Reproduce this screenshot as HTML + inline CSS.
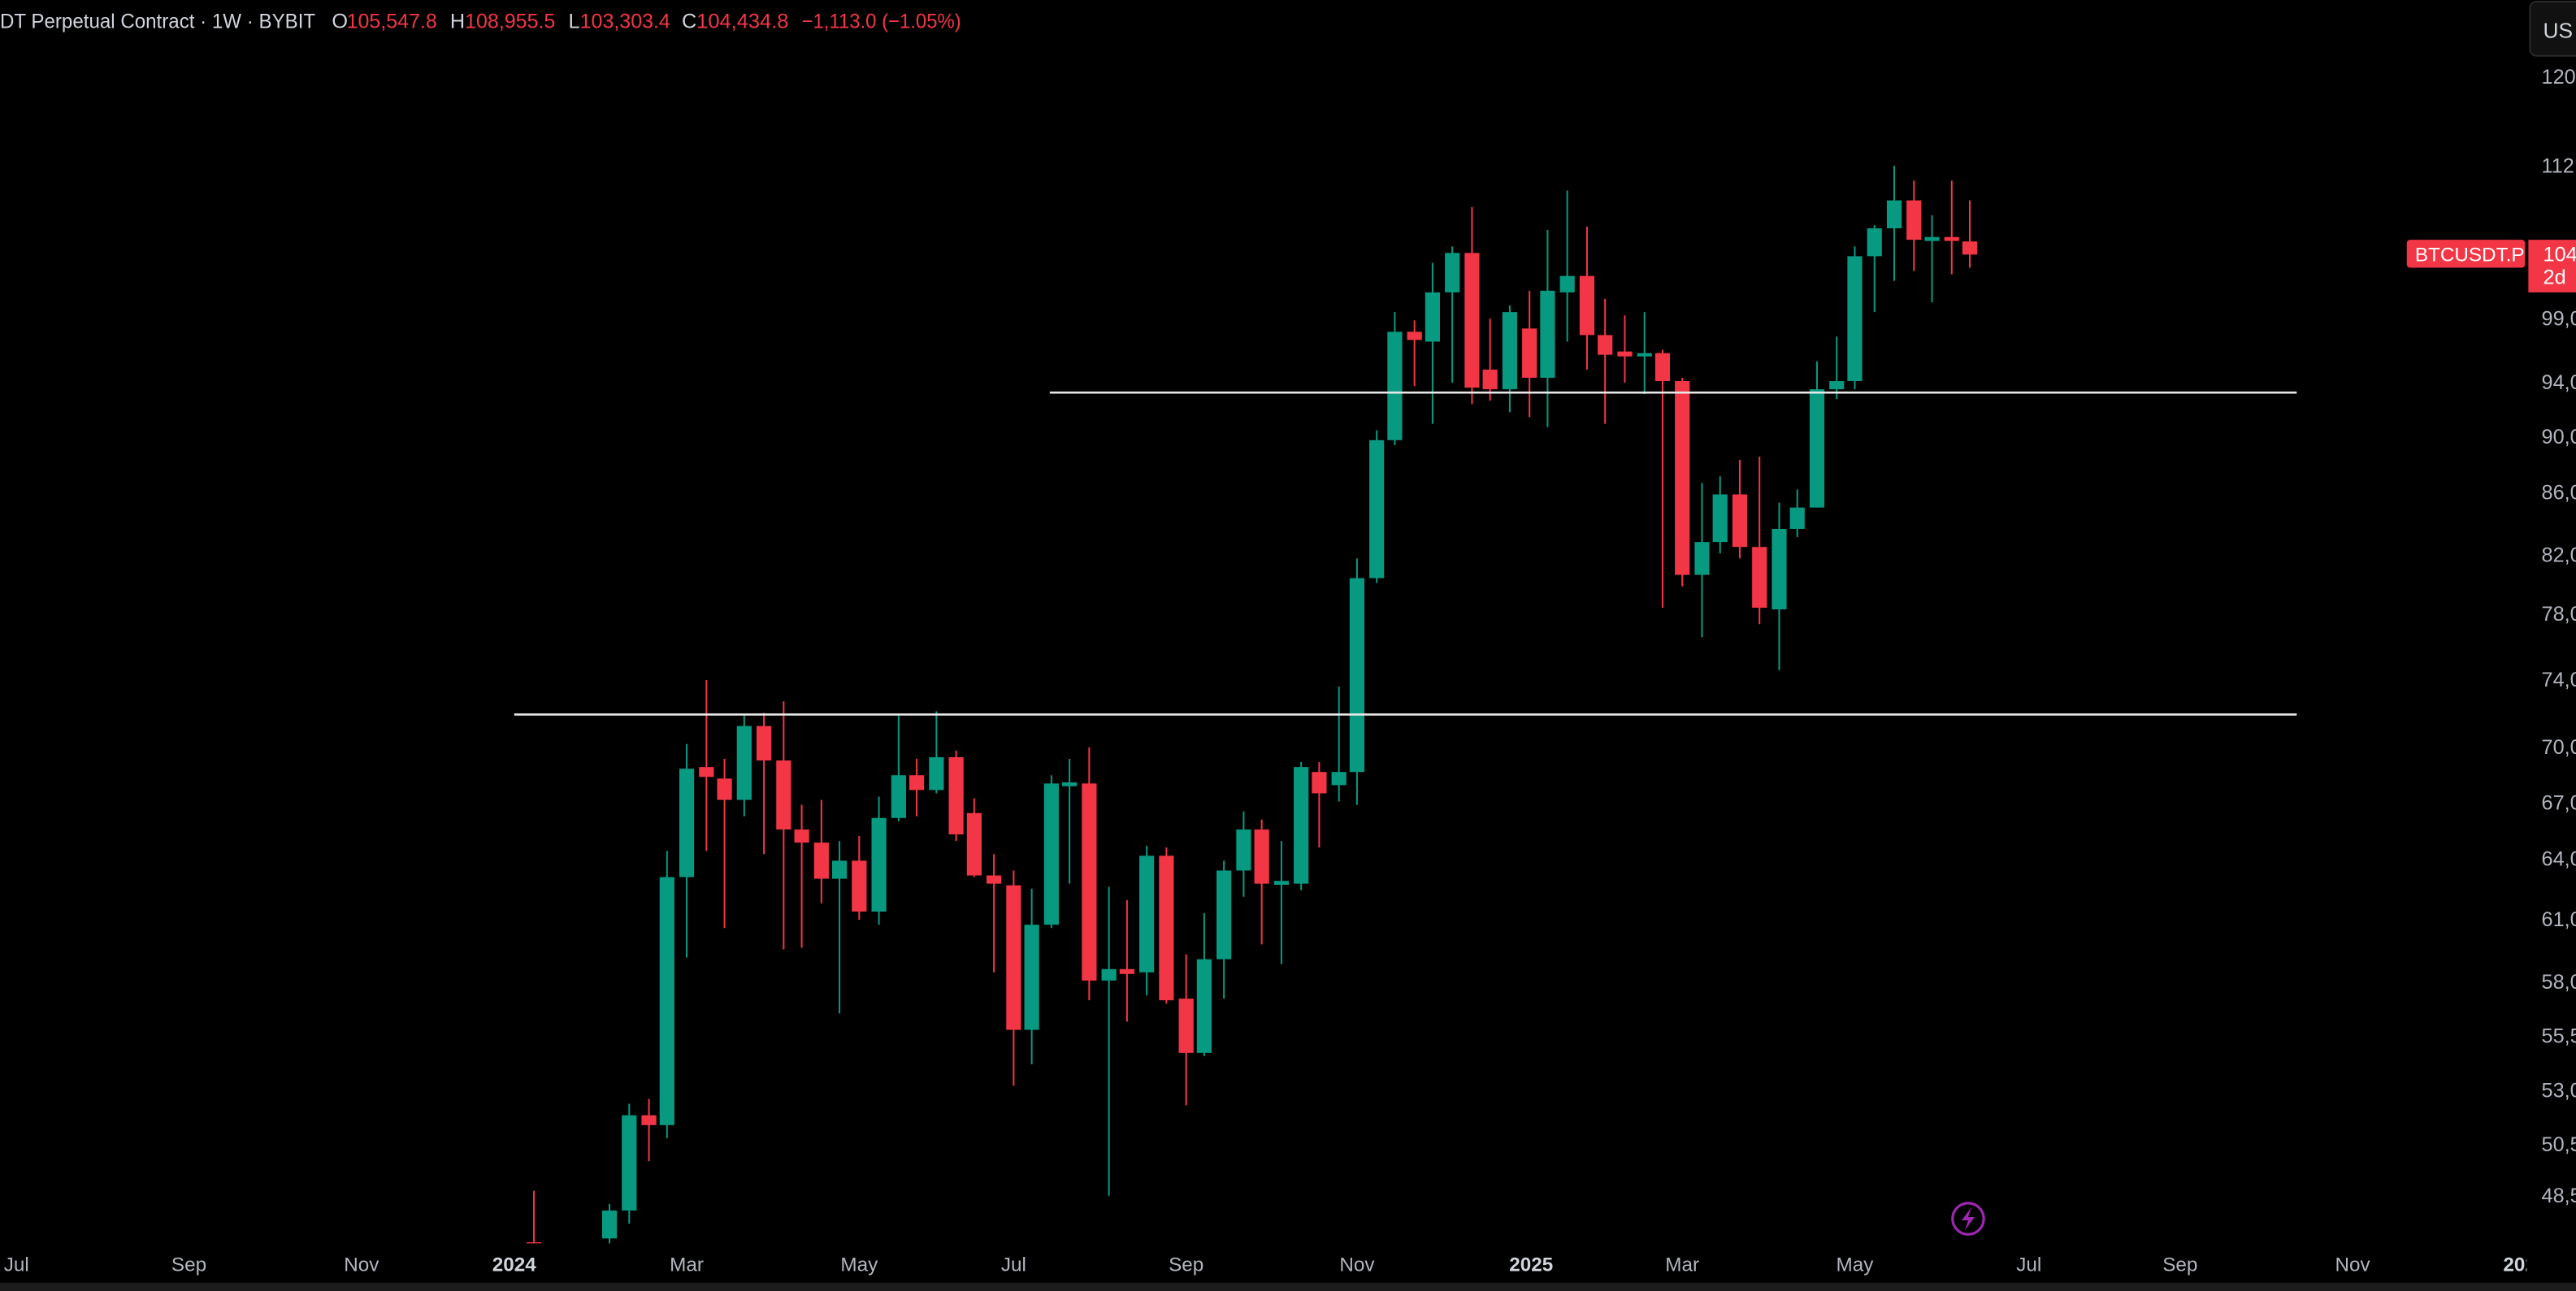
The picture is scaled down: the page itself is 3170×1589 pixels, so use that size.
<!DOCTYPE html>
<html><head><meta charset="utf-8"><style>
html,body{margin:0;padding:0;background:#000;width:3170px;height:1589px;overflow:hidden}
svg{display:block}
text{font-family:"Liberation Sans",sans-serif}
</style></head><body>
<svg id="s" width="3170" height="1589" viewBox="0 0 1568 786" preserveAspectRatio="none" xmlns="http://www.w3.org/2000/svg">
<rect width="1568" height="786" fill="#000"/>
<g id="c"></g>
<line x1="639" y1="239" x2="1398" y2="239" stroke="#e8e8e8" stroke-width="1.3"/>
<line x1="313" y1="435" x2="1398" y2="435" stroke="#e8e8e8" stroke-width="1.3"/>
<g font-size="12.5">
<text x="0" y="17" fill="#d1d4dc" textLength="192" lengthAdjust="spacingAndGlyphs">DT Perpetual Contract · 1W · BYBIT</text>
<text x="202" y="17" fill="#d1d4dc">O</text>
<text x="211" y="17" fill="#f23645" textLength="55" lengthAdjust="spacingAndGlyphs">105,547.8</text>
<text x="274" y="17" fill="#d1d4dc">H</text>
<text x="283" y="17" fill="#f23645" textLength="55" lengthAdjust="spacingAndGlyphs">108,955.5</text>
<text x="346" y="17" fill="#d1d4dc">L</text>
<text x="353" y="17" fill="#f23645" textLength="55" lengthAdjust="spacingAndGlyphs">103,303.4</text>
<text x="415" y="17" fill="#d1d4dc">C</text>
<text x="424" y="17" fill="#f23645" textLength="56" lengthAdjust="spacingAndGlyphs">104,434.8</text>
<text x="488" y="17" fill="#f23645" textLength="97" lengthAdjust="spacingAndGlyphs">−1,113.0 (−1.05%)</text>
</g>
<g id="bx" font-size="12" fill="#b2b5be"></g>
<rect x="1538" y="0" width="30" height="778" fill="#000"/>
<rect x="1540" y="1" width="40" height="33" rx="4" fill="#111" stroke="#2a2a2a"/>
<text x="1548" y="23" font-size="13" fill="#d1d4dc">US</text>
<g id="ax" font-size="12.5" fill="#b2b5be"></g>
<rect x="1465" y="146" width="72" height="17" rx="2" fill="#f23645"/>
<text x="1470" y="159" font-size="12" fill="#fff">BTCUSDT.P</text>
<rect x="1539" y="146" width="40" height="32" fill="#f23645"/>
<text x="1548" y="159" font-size="12.5" fill="#fff">104,</text>
<text x="1548" y="173" font-size="12.5" fill="#fff">2d</text>
<circle cx="1198" cy="742" r="9.5" fill="none" stroke="#9c27b0" stroke-width="1.6"/>
<path d="M1200 735 L1194 743 L1198 743 L1196 749 L1202 741 L1198 741 Z" fill="#9c27b0"/>
<rect x="0" y="781" width="1568" height="5" fill="#1c1c1c"/>
</svg>
<script>
var d=[
[325,'r',757,757,725,757],
[371,'g',754,737,733,757],[383,'g',737,679,672,745],[395,'r',679,685,669,707],[406,'g',685,534,518,693],
[418,'g',534,468,453,583],[430,'r',467,473,414,518],[441,'r',474,487,462,565],[453,'g',487,442,435,497],
[465,'r',442,463,434,520],[477,'r',463,505,427,578],[488,'r',505,513,490,577],[500,'r',513,535,487,550],
[511,'g',535,524,512,617],[523,'r',524,555,509,560],[535,'g',555,498,485,563],[547,'g',498,472,435,500],
[558,'r',472,481,462,497],[570,'g',481,461,433,483],[582,'r',461,508,457,512],[593,'r',495,533,486,534],
[605,'r',533,538,520,592],[617,'r',539,627,530,661],[628,'g',627,563,541,648],[640,'g',563,477,472,565],
[651,'g',478,477,462,538],[663,'r',477,597,455,609],[675,'g',597,590,540,728],[686,'r',590,593,548,622],
[698,'g',592,521,515,606],[710,'r',521,609,516,611],[722,'r',608,641,581,673],[733,'g',641,584,556,643],
[745,'g',584,530,524,608],[757,'g',530,505,494,546],[768,'r',505,538,499,575],[780,'g',538,537,512,587],
[792,'g',538,467,464,542],[803,'r',470,483,464,516],[815,'g',478,470,418,488],[826,'g',470,352,340,490],
[838,'g',352,268,262,355],[849,'g',268,202,190,271],[861,'r',202,207,195,235],[872,'g',208,178,160,258],
[884,'g',178,154,150,233],[896,'r',154,236,126,246],[907,'r',225,237,194,244],[919,'g',237,190,186,251],
[931,'r',200,230,177,254],[942,'g',230,177,140,260],[954,'g',178,168,116,208],[966,'r',168,204,138,225],
[977,'r',204,216,182,258],[989,'r',214,217,192,233],[1001,'g',217,215,190,240],[1012,'r',215,232,213,370],
[1024,'r',232,350,230,357],[1036,'g',350,330,294,388],[1047,'g',330,301,290,337],[1059,'r',301,333,280,340],
[1071,'r',333,370,278,380],[1083,'g',371,322,306,408],[1094,'g',322,309,298,327],[1106,'g',309,237,220,309],
[1118,'g',237,232,205,243],[1129,'g',232,156,150,237],[1141,'g',156,139,137,190],[1153,'g',139,122,101,171],
[1165,'r',122,146,110,165],[1176,'g',146,145,131,184],[1188,'r',145,146,110,167],[1199,'r',147,155,122,163]];
var ns='http://www.w3.org/2000/svg',c=document.getElementById('c');
function el(t,a,p){var e=document.createElementNS(ns,t);for(var k in a)e.setAttribute(k,a[k]);(p||c).appendChild(e);return e;}
d.forEach(function(q){var col=q[1]=='g'?'#089981':'#f23645';var x=q[0];
var t=Math.min(q[2],q[3]),b=Math.max(q[2],q[3]);if(b-t<1.3){t-=0.7;b+=0.7;}
el('line',{x1:x,x2:x,y1:q[4],y2:Math.min(q[5],757),stroke:col,'stroke-width':1});
el('rect',{x:x-4.5,y:t,width:9,height:Math.min(b,757)-t,fill:col});});
var ax=document.getElementById('ax');
[['120,000',51],['112,000',105],['99,000',198],['94,000',237],['90,000',270],['86,000',304],['82,000',342],['78,000',378],['74,000',418],['70,000',459],['67,000',493],['64,000',527],['61,000',564],['58,000',602],['55,500',635],['53,000',668],['50,500',701],['48,500',732]].forEach(function(l){var t=el('text',{x:1547,y:l[1]},ax);t.textContent=l[0];});
var bx=document.getElementById('bx');
[['Jul',10],['Sep',115],['Nov',220],['2024',313,1],['Mar',418],['May',523],['Jul',617],['Sep',722],['Nov',826],['2025',932,1],['Mar',1024],['May',1129],['Jul',1235],['Sep',1327],['Nov',1432],['2026',1537,1]].forEach(function(l){var t=el('text',{x:l[1],y:774,'text-anchor':'middle'},bx);if(l[2]){t.setAttribute('font-weight','bold');t.setAttribute('fill','#d1d4dc');}t.textContent=l[0];});
</script>
</body></html>
